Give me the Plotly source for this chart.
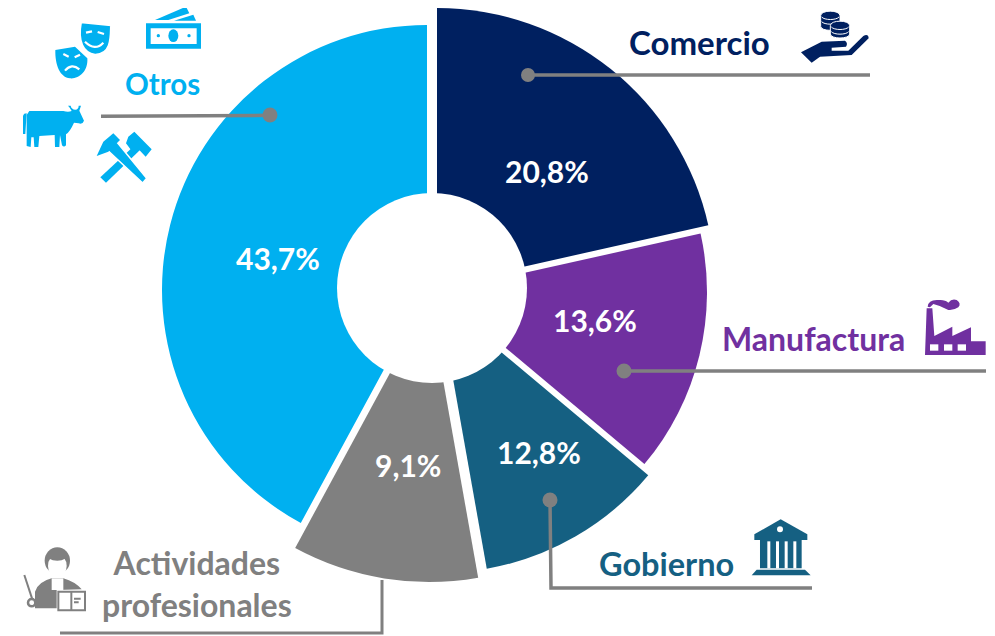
import re
import plotly.graph_objects as go

# The page body has an 8 px margin, so the figure is 8 px inside the window
PAGE = 8
W, H = 987, 628
sectors = ["Comercio", "Manufactura", "Gobierno", "Actividades<br>profesionales", "Otros"]
shown_labels = ["20,8%", "13,6%", "12,8%", "9,1%", "43,7%"]
drawn_share = [21.5, 14.6, 11.1, 10.7, 42.1]
colors = ["#002060", "#7030A0", "#156082", "#808080", "#00B0F0"]
hubs = [(437, 286), (439, 292), (439, 300), (429, 301), (427, 290)]
radii = [278, 268, 273, 281, 265]
GREY = "#808080"


def fx(x):
    return (x - PAGE) / W


def fy(y):
    return 1 - (y - PAGE) / H


fig = go.Figure()
start = 0.0
for share, col, (cx, cy), R, name in zip(drawn_share, colors, hubs, radii, sectors):
    fig.add_trace(go.Pie(
        values=[share, 100 - share], labels=[name, ""], sort=False, direction="clockwise",
        rotation=start, textinfo="none", hoverinfo="skip", showlegend=False,
        marker=dict(colors=[col, "rgba(0,0,0,0)"], line=dict(width=0)),
        domain=dict(x=[max(fx(cx - R), 0), fx(cx + R)], y=[fy(cy + R), min(fy(cy - R), 1)]),
    ))
    start += share * 3.6

shapes = []


def P(d, ox=0, oy=0, k=1 / 3):
    toks = re.findall(r"[A-Za-z]|-?\d+\.?\d*", d)
    res, isx = [], True
    for t in toks:
        if t.isalpha():
            res.append(t)
            isx = True
        else:
            v = float(t)
            if isx:
                res.append(f"{fx(ox + v * k):.5f},")
            else:
                res.append(f"{fy(oy + v * k):.5f}")
            isx = not isx
    return " ".join(res)


def fill(d, col, ox=0, oy=0, line=None, lw=0):
    shapes.append(dict(type="path", xref="paper", yref="paper", layer="above", path=P(d, ox, oy),
                       fillcolor=col, line=dict(color=line or col, width=lw)))


def stroke(d, col, lw, ox=0, oy=0):
    shapes.append(dict(type="path", xref="paper", yref="paper", layer="above", path=P(d, ox, oy),
                       fillcolor="rgba(0,0,0,0)", line=dict(color=col, width=lw)))


def ell(x, y, rx, ry, col, ox=0, oy=0, k=1 / 3, line=None, lw=0):
    px, py, a, b = ox + x * k, oy + y * k, rx * k, ry * k
    shapes.append(dict(type="circle", xref="paper", yref="paper", layer="above",
                       x0=fx(px - a), x1=fx(px + a), y0=fy(py + b), y1=fy(py - b),
                       fillcolor=col, line=dict(color=line or col, width=lw)))


# hole
ell(432, 288, 95, 95, "white", k=1)

# leader lines
for d, lw in [("M1584 225 L2610 225", 3.5), ("M303 349 L810 346", 3.5), ("M1872 1113 L2958 1113", 3.5),
              ("M1650 1500 L1653 1764 L2436 1764", 3.5), ("M1146 1740 L1146 1899 L180 1899", 3)]:
    stroke(d, GREY, lw)
for x, y, r in [(528, 75, 7), (270, 115, 7.5), (624, 371, 7.5), (550, 500, 7.5)]:
    ell(x, y, r, r, GREY, k=1)

B = colors[4]
# money
fill("M438 70 L603 70 L603 146 L438 146 Z", B)
fill("M452 85 L590 85 L590 132 L452 132 Z", "white")
ell(520, 107, 15, 19, B)
ell(475, 107, 5, 5, B)
ell(567, 107, 5, 5, B)
fill("M465 60 L558 20 L568 40 L505 60 Z", B)
fill("M522 62 L580 44 L588 62 Z", B)
# masks
fill("M166 150 L225 140 L262 175 C265 215 235 238 210 235 C180 232 165 195 166 150 Z", B)
fill("M243 67 L333 76 C332 110 335 165 285 164 C250 160 232 125 243 67 Z", B, line="white", lw=2)
for d in ["M258 98 L276 94", "M293 96 L312 102", "M255 125 Q285 155 310 128", "M190 162 L206 170",
          "M224 172 L240 164", "M195 212 Q215 188 238 208"]:
    stroke(d, "white", 2.2)
# cow
fill("M88 333 L190 333 Q205 337 215 333 L208 322 L204 317 L212 317 Q214 328 226 329 Q236 328 236 317 L243 317 "
     "L238 332 L252 362 Q248 374 236 370 L222 368 Q210 395 198 403 L198 436 Q192 443 186 436 L180 405 L178 441 "
     "L165 441 L164 405 L118 408 L115 441 L103 441 L101 412 L94 412 L92 441 L80 438 L80 345 Z", B)
fill("M69 347 Q71 340 80 340 L76 402 L69 402 Z", B)
# hammers
fill("M405 435 L420 450 L318 548 L301 532 Z", B)
fill("M385 410 L403 395 L455 448 L437 470 L418 450 L402 462 L378 430 Z", B)
fill("M350 425 L440 535 L428 549 L322 450 Z", B, line="white", lw=1.5)
fill("M290 468 L310 425 L340 400 L360 420 L325 455 Z", B)

N = colors[0]
# coins and hand (zoom crop starts at x=600)
ox = 600
for x, y, h in [(691, 47, 32), (720, 77, 25)]:
    fill(f"M{x-29} {y} C{x-29} {y-18} {x+29} {y-18} {x+29} {y} L{x+29} {y+h} "
         f"C{x+29} {y+h+16} {x-29} {y+h+16} {x-29} {y+h} Z", N, ox, line="white", lw=1)
    stroke(f"M{x-26} {y+4} C{x-18} {y+14} {x+18} {y+14} {x+26} {y+4}", "white", 1, ox)
    stroke(f"M{x-26} {y+18} C{x-18} {y+28} {x+18} {y+28} {x+26} {y+18}", "white", 1, ox)
fill("M603 157 L665 125 L735 122 Q745 130 738 140 L695 143 L695 152 L745 152 L790 108 Q805 100 806 115 "
     "L755 165 L660 170 L635 188 Z", N, ox)
# factory
PU = colors[1]
ax, ay = 700, 280
fill("M675 225 L680 85 L697 85 L703 168 L757 140 L757 168 L813 142 L813 184 L857 184 L857 225 Z", PU, ax, ay)
for x in (690, 732, 773):
    fill(f"M{x} 193 L{x+25} 193 L{x+25} 212 L{x} 212 Z", "white", ax, ay)
fill("M683 80 Q685 58 715 60 Q735 58 745 68 Q755 55 770 60 Q785 70 775 82 Q760 92 745 90 Q725 78 700 72 L690 82 Z",
     PU, ax, ay)
# temple
T = colors[2]
tx, ty = 530, 500
fill("M673 103 L752 58 L832 103 L832 120 L673 120 Z", T, tx, ty)
ell(750, 88, 9, 9, "white", tx, ty)
fill("M690 120 L815 120 L815 205 L690 205 Z", T, tx, ty)
for x in (712, 738, 764, 790):
    fill(f"M{x} 124 L{x+9} 124 L{x+9} 205 L{x} 205 Z", "white", tx, ty)
fill("M680 209 L825 209 L842 226 L665 226 Z", T, tx, ty)
# person
px, py = 0, 530
fill("M105 235 L105 185 Q115 155 155 145 L190 145 Q225 155 245 178 L170 180 L170 235 Z", GREY, px, py)
ell(172, 92, 38, 40, GREY, px, py)
ell(172, 108, 28, 35, "white", px, py)
fill("M145 85 Q172 100 198 85 L198 70 L145 70 Z", GREY, px, py)
fill("M155 145 L190 145 L190 180 L155 180 Z", "white", px, py)
stroke("M175 185 L255 185 L255 241 L175 241 Z", GREY, 2, px, py)
stroke("M214 185 L214 241", GREY, 2, px, py)
stroke("M222 206 L242 206 M222 217 L236 217", GREY, 2, px, py)
stroke("M73 135 L96 205", GREY, 2, px, py)
ell(95, 218, 11, 11, "white", px, py, line=GREY, lw=2.5)

ann = []


def text(s, x, y, col, size):
    ann.append(dict(text=s, x=fx(x), y=fy(y), xref="paper", yref="paper", showarrow=False,
                    xanchor="center", yanchor="middle", align="center",
                    font=dict(family="Lato", size=size, color=col, weight="bold")))


for s, (x, y) in zip(shown_labels, [(547, 171), (595, 320), (539, 452), (408, 465), (278, 258)]):
    text(s, x, y, "white", 30)
text(sectors[0], 699, 42, colors[0], 33)
text(sectors[4], 162, 84, colors[4], 29.5)
text(sectors[1], 813, 338, colors[1], 32)
text(sectors[2], 666, 563, colors[2], 32.5)
text(sectors[3], 197, 583, GREY, 32)

fig.update_layout(width=W, height=H, margin=dict(l=0, r=0, t=0, b=0), paper_bgcolor="white",
                  shapes=shapes, annotations=ann, showlegend=False)
fig.write_html("out.html")
